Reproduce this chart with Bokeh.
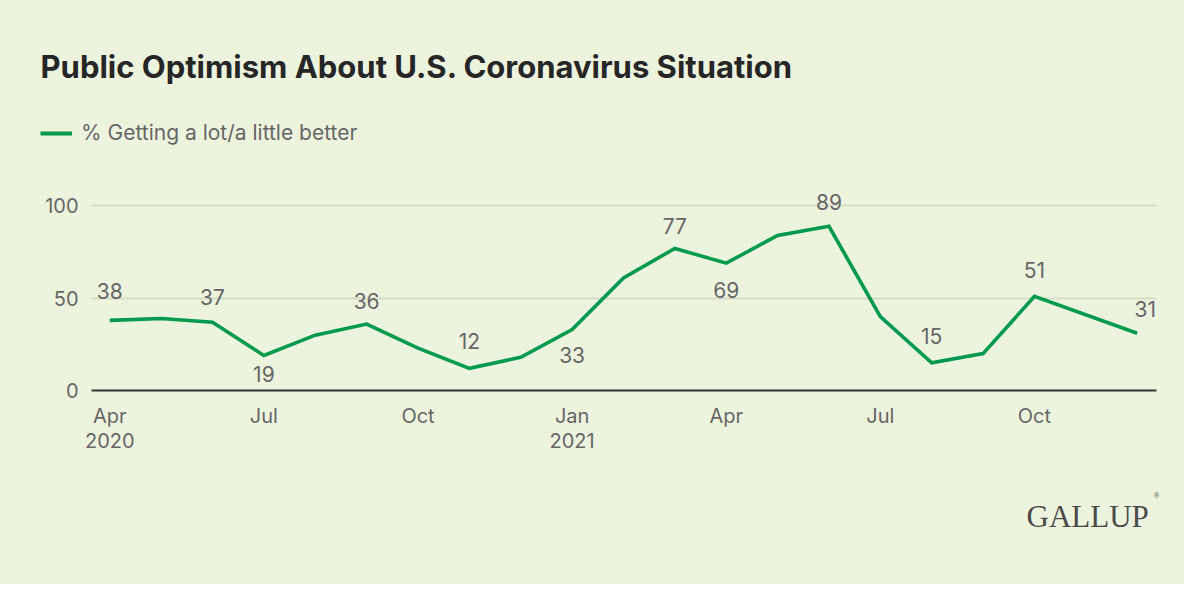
from bokeh.plotting import figure
from bokeh.layouts import column
from bokeh.models import Range1d, FixedTicker, Label, ColumnDataSource, Legend, LegendItem
from bokeh.embed import file_html
from bokeh.resources import INLINE
from bokeh.core.properties import value

# ---- data ----
months = ["2020-04", "2020-05", "2020-06", "2020-07", "2020-08", "2020-09", "2020-10",
          "2020-11", "2020-12", "2021-01", "2021-02", "2021-03", "2021-04", "2021-05",
          "2021-06", "2021-07", "2021-08", "2021-09", "2021-10", "2021-12"]
pct_better = [38, 39, 37, 19, 30, 36, 23, 12, 18, 33, 61, 77, 69, 84, 89, 40, 15, 20, 51, 31]
series_name = "% Getting a lot/a little better"
title_text = "Public Optimism About U.S. Coronavirus Situation"
tick_months = ["2020-04", "2020-07", "2020-10", "2021-01", "2021-04", "2021-07", "2021-10"]
tick_labels = ["Apr\n2020", "Jul", "Oct", "Jan\n2021", "Apr", "Jul", "Oct"]
y_ticks = [0, 50, 100]
labeled_months = ["2020-04", "2020-06", "2020-07", "2020-09", "2020-11", "2021-01",
                  "2021-03", "2021-04", "2021-06", "2021-08", "2021-10", "2021-12"]

# label styling (screen-pixel offsets of each value label from its point)
label_dy = [-29, -25, 19, -23, -27, 25, -22, 27, -24, -27, -26, -24]
label_dx = [0, 0, 0, 0, 0, 0, 0, 0, 0, 0, 0, 8]

BG = "#EDF4DE"
GREEN = "#009A4E"
GREY = "#666666"
FONT = "Inter"
W = 1184
H_HEAD, H_MAIN, H_FOOT = 187, 273, 124
CSS = {"background-color": BG}


def month_index(m):
    y, mo = m.split("-")
    return (int(y) - 2020) * 12 + int(mo) - 4


def no_align(f):
    try:
        f.frame_align = False
    except Exception:
        pass


def blank(h):
    f = figure(width=W, height=h, output_backend="svg", toolbar_location=None,
               x_range=Range1d(0, W), y_range=Range1d(h, 0),
               x_axis_type=None, y_axis_type=None, styles=CSS,
               min_border=0, min_border_left=0, min_border_right=0,
               min_border_top=0, min_border_bottom=0)
    f.background_fill_color = None
    f.border_fill_color = None
    f.outline_line_color = None
    f.xgrid.visible = False
    f.ygrid.visible = False
    no_align(f)
    return f


# ---- header: title + legend ----
head = blank(H_HEAD)
head.add_layout(Label(x=40, y=66, text=title_text,
                      text_font=FONT, text_font_style="bold", text_font_size="31px",
                      text_color="#262626", text_baseline="alphabetic"))
key_src = ColumnDataSource(dict(x=[float("nan")], y=[float("nan")]))
key_r = head.line("x", "y", source=key_src, line_color=GREEN, line_width=4)
legend = Legend(items=[LegendItem(label=series_name, renderers=[key_r])],
                location=(40, H_HEAD - 145), orientation="horizontal",
                background_fill_alpha=0, border_line_color=None,
                padding=0, margin=0, spacing=0,
                glyph_width=32, glyph_height=20, label_height=20, label_standoff=9,
                label_text_font=FONT, label_text_font_size="21px",
                label_text_color=GREY, label_text_baseline="middle")
head.add_layout(legend, "center")

# ---- main chart ----
x = [month_index(m) for m in months]
src = ColumnDataSource(dict(x=x, y=pct_better))

p = figure(width=W, height=H_MAIN, output_backend="svg", toolbar_location=None,
           x_range=Range1d(-0.356, 20.376), y_range=Range1d(0, 110), styles=CSS,
           min_border_left=91, min_border_right=28, min_border_top=0, min_border_bottom=70)
p.background_fill_color = None
p.border_fill_color = None
p.outline_line_color = None
no_align(p)

p.line("x", "y", source=src, line_color=GREEN, line_width=3.6, line_join="miter")

lx = [month_index(m) for m in labeled_months]
ly = [pct_better[months.index(m)] for m in labeled_months]
lt = [str(v) for v in ly]
lsrc = ColumnDataSource(dict(x=lx, y=ly, t=lt, yo=label_dy, xo=label_dx))
p.text("x", "y", text="t", source=lsrc, y_offset="yo", x_offset="xo",
       text_align="center", text_baseline="middle", text_color=GREY,
       text_font=value(FONT), text_font_size="21px")

xa = p.xaxis[0]
xa.ticker = FixedTicker(ticks=[month_index(m) for m in tick_months])
xa.major_label_overrides = {month_index(m): lab for m, lab in zip(tick_months, tick_labels)}
xa.axis_line_color = "#333333"
xa.axis_line_width = 2
xa.major_tick_line_color = None
xa.minor_tick_line_color = None
xa.major_tick_out = 0
xa.major_tick_in = 0
xa.minor_tick_out = 0
xa.major_label_standoff = 13
xa.major_label_text_font = FONT
xa.major_label_text_font_size = "20px"
xa.major_label_text_color = GREY
xa.major_label_text_line_height = 1.05

ya = p.yaxis[0]
ya.ticker = FixedTicker(ticks=y_ticks)
ya.axis_line_color = None
ya.major_tick_line_color = None
ya.minor_tick_line_color = None
ya.major_tick_out = 0
ya.major_tick_in = 0
ya.minor_tick_out = 0
ya.major_label_standoff = 13
ya.major_label_text_font = FONT
ya.major_label_text_font_size = "20px"
ya.major_label_text_color = GREY

p.xgrid.grid_line_color = None
p.ygrid.ticker = FixedTicker(ticks=[50, 100])
p.ygrid.grid_line_color = "#D5DDC6"
p.ygrid.grid_line_width = 2

# ---- footer: logo ----
foot = blank(H_FOOT)
foot.add_layout(Label(x=1026, y=56, text="GALLUP",
                      text_font="Liberation Serif", text_font_size="31px",
                      text_color="#4A4A4A", text_baseline="alphabetic"))
foot.add_layout(Label(x=1153, y=35, text="®",
                      text_font="Liberation Serif", text_font_size="8px",
                      text_color="#4A4A4A", text_baseline="alphabetic"))

layout = column(head, p, foot, spacing=0, styles=CSS)
open("out.html", "w").write(file_html(layout, INLINE))
